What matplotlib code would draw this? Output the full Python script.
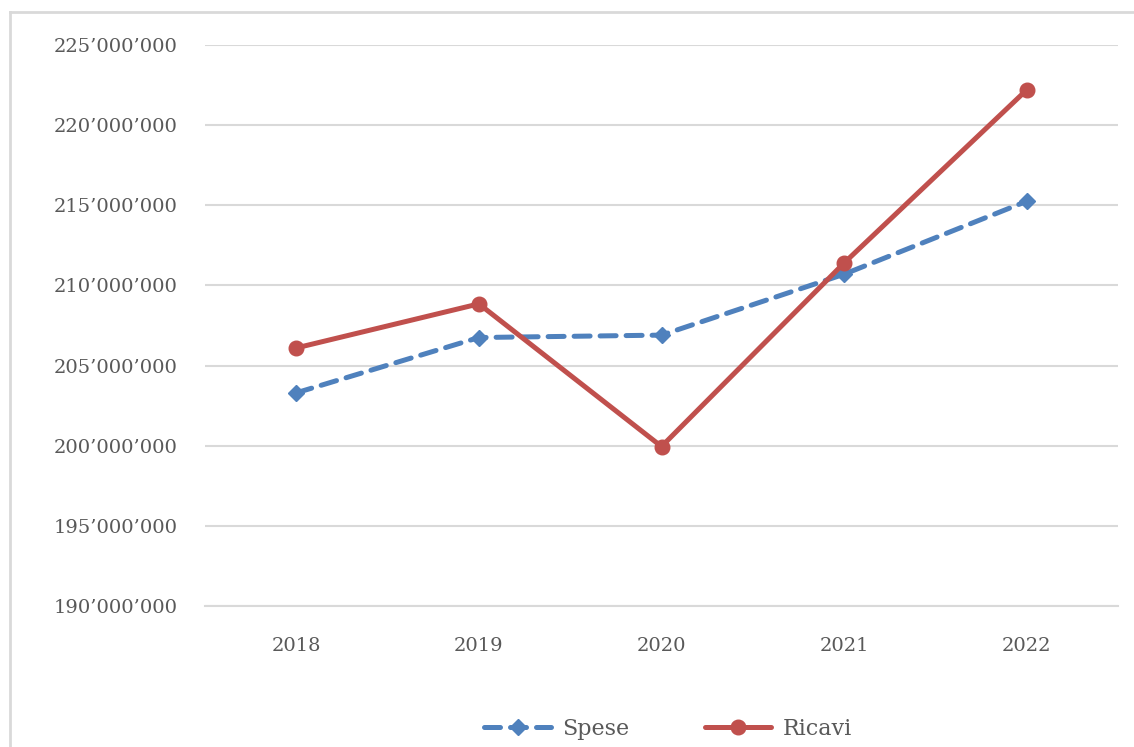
import matplotlib.pyplot as plt
import matplotlib.ticker as ticker
from matplotlib.lines import Line2D

anni = ['2018', '2019', '2020', '2021', '2022']
spese = [203.3e6, 206.75e6, 206.9e6, 210.7e6, 215.25e6]
ricavi = [206.1e6, 208.85e6, 199.95e6, 211.4e6, 222.2e6]

blu = '#4F81BD'
rosso = '#C0504D'
grigio = '#595959'
font = 'DejaVu Serif'


def apostrophe_formatter(v, pos):
    return f'{int(round(v)):,}'.replace(',', '\u2019')


fig = plt.figure(figsize=(11.34, 7.47), dpi=100)
ax = fig.add_axes([205 / 1134, 1 - 606 / 747, (1118 - 205) / 1134, (606 - 45) / 747])

x = list(range(len(anni)))
ax.plot(x, spese, color=blu, lw=3.6, dashes=(3.2, 2.0), dash_capstyle='round',
        marker='D', ms=8.5, label='Spese', zorder=3)
ax.plot(x, ricavi, color=rosso, lw=3.6, solid_capstyle='round',
        marker='o', ms=10.5, label='Ricavi', zorder=4)

ax.set_xlim(-0.5, 4.5)
ax.set_ylim(190e6, 225e6)
ax.yaxis.set_major_locator(ticker.MultipleLocator(5e6))
ax.yaxis.set_major_formatter(ticker.FuncFormatter(apostrophe_formatter))
ax.set_xticks(x)
ax.set_xticklabels(anni)

ax.grid(axis='y', color='#D9D9D9', lw=1.5)
ax.set_axisbelow(True)
for s in ['top', 'right', 'left']:
    ax.spines[s].set_visible(False)
ax.spines['bottom'].set_color('#D9D9D9')
ax.spines['bottom'].set_linewidth(1.5)
ax.tick_params(axis='both', length=0, colors=grigio, labelsize=14)
ax.tick_params(axis='y', pad=20)
ax.tick_params(axis='x', pad=22)
for lab in ax.get_xticklabels() + ax.get_yticklabels():
    lab.set_family(font)

leg = fig.legend(loc='center', bbox_to_anchor=(668 / 1134, 1 - 729 / 747), ncol=2,
                 frameon=False, prop={'family': font, 'size': 16}, handlelength=3.0,
                 columnspacing=3.4, handletextpad=0.5)
for t in leg.get_texts():
    t.set_color(grigio)

# bordo del grafico (solo sopra e a sinistra visibili)
fig.add_artist(Line2D([10 / 1134, 10 / 1134], [0, 1 - 12 / 747], color='#D9D9D9', lw=2,
                      transform=fig.transFigure))
fig.add_artist(Line2D([10 / 1134, 1], [1 - 12 / 747, 1 - 12 / 747], color='#D9D9D9', lw=2,
                      transform=fig.transFigure))

fig.savefig('out.png', dpi=100)
